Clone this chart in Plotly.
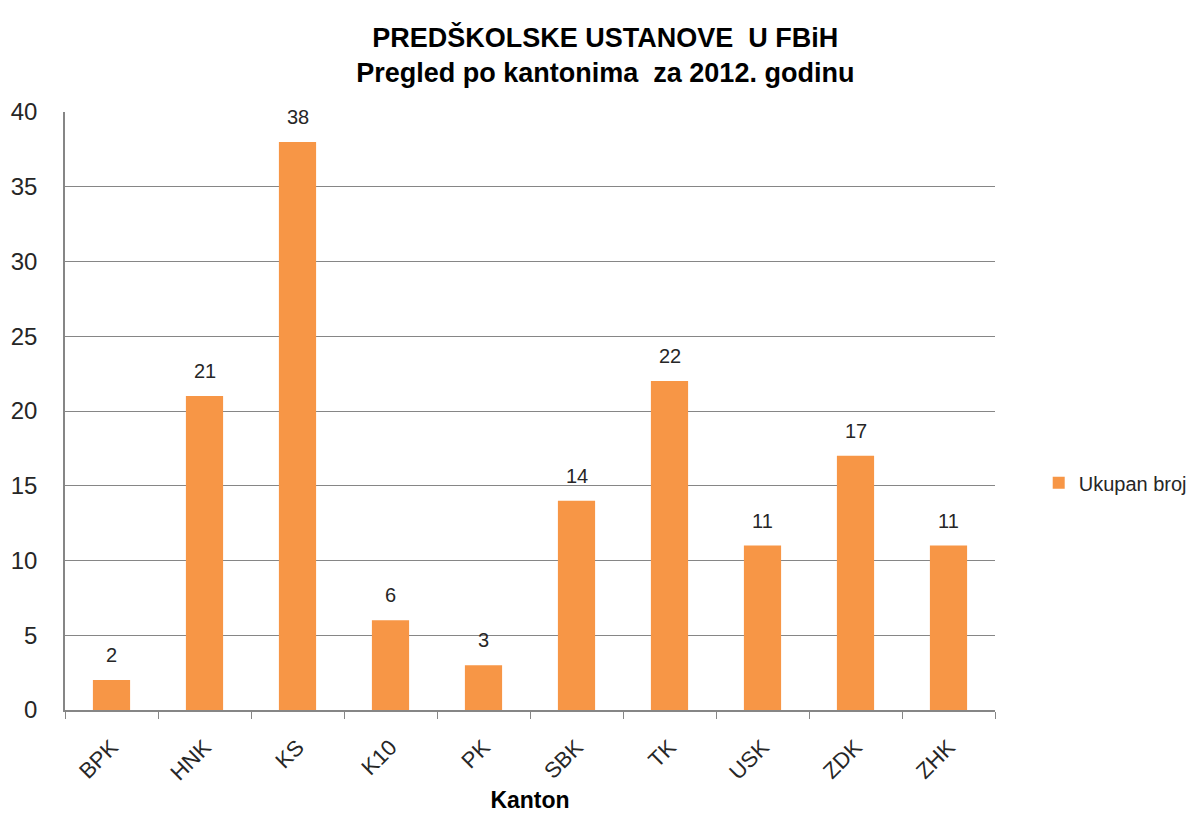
import plotly.graph_objects as go

categories = ["BPK", "HNK", "KS", "K10", "PK", "SBK", "TK", "USK", "ZDK", "ZHK"]
values = [2, 21, 38, 6, 3, 14, 22, 11, 17, 11]
series_name = "Ukupan broj"
y_ticks = [0, 5, 10, 15, 20, 25, 30, 35, 40]

FONT = "Liberation Sans, Arial, sans-serif"

# the page has an 8px body margin, so the figure is drawn 8px smaller
W, H = 1187, 831

fig = go.Figure()
fig.add_trace(go.Bar(
    x=categories, y=values, name=series_name,
    marker=dict(color="#F79646", line=dict(width=0)),
    width=0.4,
    showlegend=True,
))

for c, v in zip(categories, values):
    fig.add_annotation(
        x=c, y=v, text=str(v), showarrow=False,
        yanchor="bottom", yshift=12,
        font=dict(family=FONT, size=20, color="#262626"),
    )

fig.update_layout(
    width=W, height=H,
    margin=dict(l=57, r=200, t=104, b=129, autoexpand=False),
    paper_bgcolor="white", plot_bgcolor="white",
    title=dict(
        text="PREDŠKOLSKE USTANOVE  U FBiH<br>Pregled po kantonima  za 2012. godinu",
        x=0.581, xref="paper", xanchor="center",
        y=1 - 39 / H, yref="container", yanchor="top",
        font=dict(family=FONT, size=27, color="#000000", weight="bold"),
        automargin=False,
    ),
    font=dict(family=FONT, color="#262626"),
    legend=dict(
        x=1.047, y=0.38, xanchor="left", yanchor="middle",
        font=dict(size=20, color="#262626"),
        itemwidth=30, bgcolor="rgba(0,0,0,0)",
    ),
    bargap=0.6,
)

fig.update_xaxes(
    automargin=False,
    showline=True, linecolor="#868686", linewidth=1.5,
    ticks="outside", tickson="boundaries", ticklen=7, tickcolor="#868686",
    tickangle=-45, tickfont=dict(size=22, color="#262626"),
    ticklabelstandoff=14,
    title=dict(text="<b>Kanton</b>", font=dict(size=23, color="#000000"), standoff=8),
    showgrid=False,
)
fig.update_yaxes(
    automargin=False,
    range=[0, 40], tickvals=y_ticks,
    showline=True, linecolor="#868686", linewidth=1.5,
    showgrid=True, gridcolor="#868686", gridwidth=1,
    tickfont=dict(size=24, color="#262626"),
    ticks="", ticklabelstandoff=21,
    zeroline=False,
)

fig.write_html("out.html")
